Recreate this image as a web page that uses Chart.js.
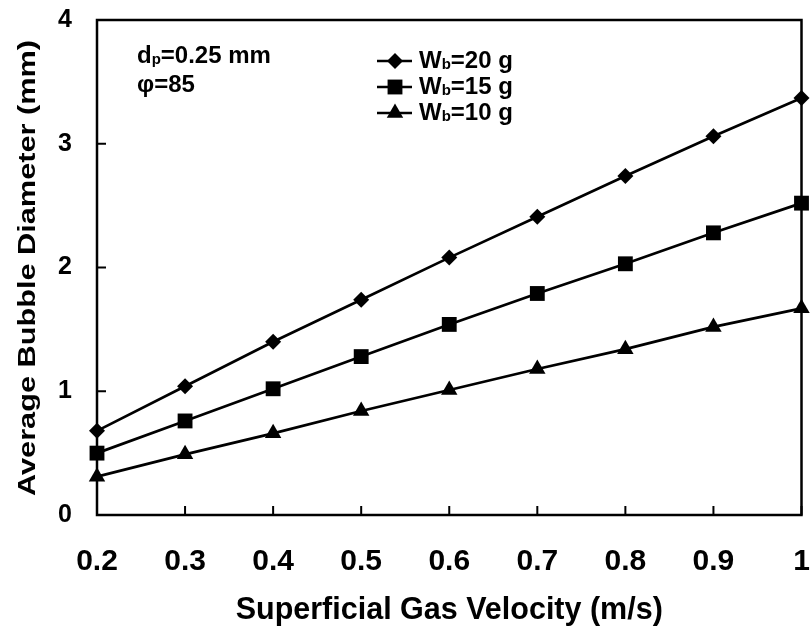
<!DOCTYPE html>
<html>
<head>
<meta charset="utf-8">
<script src="https://cdn.jsdelivr.net/npm/chart.js@4.4.1/dist/chart.umd.min.js"></script>
<style>
    html, body { margin: 0; padding: 0; background: #fff; }
    #wrap { width: 812px; height: 634px; }
</style>
</head>
<body>
<div id="wrap"><canvas id="bubbleChart" width="812" height="634"></canvas></div>
<script>
// data
const velocities = [0.2, 0.3, 0.4, 0.5, 0.6, 0.7, 0.8, 0.9, 1.0];
const dia20g = [0.68, 1.04, 1.40, 1.74, 2.08, 2.41, 2.74, 3.06, 3.37];
const dia15g = [0.50, 0.76, 1.02, 1.28, 1.54, 1.79, 2.03, 2.28, 2.52];
const dia10g = [0.31, 0.49, 0.66, 0.84, 1.01, 1.18, 1.34, 1.52, 1.67];
const bedMasses = ['20 g', '15 g', '10 g'];
const xTicks = [0.2, 0.3, 0.4, 0.5, 0.6, 0.7, 0.8, 0.9, 1.0];
const yTicks = [0, 1, 2, 3, 4];
const yTitle = 'Average Bubble Diameter (mm)';

const FONT = "'Liberation Sans', Arial, sans-serif";

function toPoints(ys) {
    return velocities.map((v, i) => ({ x: v, y: ys[i] }));
}

// Frame and inward tick marks
const frameAndTicks = {
    id: 'frameAndTicks',
    beforeDatasetsDraw(chart) {
        const { ctx, chartArea: a, scales: { x, y } } = chart;
        ctx.save();
        ctx.strokeStyle = '#000';
        ctx.lineWidth = 2;
        ctx.beginPath();
        x.ticks.forEach(t => {
            const px = x.getPixelForValue(t.value);
            ctx.moveTo(px, a.bottom);
            ctx.lineTo(px, a.bottom - 9);
        });
        y.ticks.forEach(t => {
            const py = y.getPixelForValue(t.value);
            ctx.moveTo(a.left, py);
            ctx.lineTo(a.left + 9, py);
        });
        ctx.stroke();
        ctx.lineWidth = 2.5;
        ctx.strokeRect(a.left, a.top, a.right - a.left, a.bottom - a.top);
        ctx.restore();
    }
};

// text with a subscript part
function drawSubText(ctx, parts, x, y, size) {
    let cx = x;
    parts.forEach(([txt, sub]) => {
        const s = sub ? Math.round(size * 0.62) : size;
        ctx.font = `bold ${s}px ${FONT}`;
        ctx.fillText(txt, cx, sub ? y + size * 0.16 : y);
        cx += ctx.measureText(txt).width;
    });
}

function drawMarker(ctx, style, x, y, r) {
    ctx.beginPath();
    if (style === 'rectRot') {
        ctx.moveTo(x, y - r); ctx.lineTo(x + r, y); ctx.lineTo(x, y + r); ctx.lineTo(x - r, y);
    } else if (style === 'rect') {
        const s = r * Math.SQRT1_2;
        ctx.rect(x - s, y - s, 2 * s, 2 * s);
    } else {
        ctx.moveTo(x, y - r);
        ctx.lineTo(x + r * 0.866, y + r * 0.5);
        ctx.lineTo(x - r * 0.866, y + r * 0.5);
    }
    ctx.closePath();
    ctx.fill();
}

// y title (stretched along its length like the original), notes and legend
const notes = {
    id: 'notes',
    afterDraw(chart) {
        const ctx = chart.ctx;
        ctx.save();
        ctx.fillStyle = '#000';
        ctx.strokeStyle = '#000';
        ctx.textBaseline = 'middle';
        ctx.textAlign = 'center';

        ctx.save();
        ctx.font = `bold 24px ${FONT}`;
        const w = ctx.measureText(yTitle).width;
        ctx.translate(28, 268);
        ctx.rotate(-Math.PI / 2);
        ctx.scale(456 / w, 1);
        ctx.fillText(yTitle, 0, 0);
        ctx.restore();

        ctx.textAlign = 'left';
        drawSubText(ctx, [['d', false], ['p', true], ['=0.25 mm', false]], 137, 56, 24);
        drawSubText(ctx, [['φ=85', false]], 137, 85, 24);

        const rowY = [61, 87, 113];
        chart.data.datasets.forEach((ds, i) => {
            const yy = rowY[i];
            ctx.lineWidth = 2.5;
            ctx.beginPath();
            ctx.moveTo(377, yy);
            ctx.lineTo(412, yy);
            ctx.stroke();
            drawMarker(ctx, ds.pointStyle, 395, yy, ds.pointRadius);
            drawSubText(ctx, [['W', false], ['b', true], ['=' + bedMasses[i], false]], 419, yy, 24);
        });
        ctx.restore();
    }
};

const datasetBase = {
    borderColor: '#000',
    backgroundColor: '#000',
    borderWidth: 2.7,
    pointBorderWidth: 0,
    tension: 0,
    clip: false
};

new Chart(document.getElementById('bubbleChart'), {
    type: 'line',
    data: {
        datasets: [
            { ...datasetBase, label: bedMasses[0], data: toPoints(dia20g), pointStyle: 'rectRot', pointRadius: 8 },
            { ...datasetBase, label: bedMasses[1], data: toPoints(dia15g), pointStyle: 'rect', pointRadius: 10.5 },
            { ...datasetBase, label: bedMasses[2], data: toPoints(dia10g), pointStyle: 'triangle', pointRadius: 9.5 }
        ]
    },
    options: {
        responsive: false,
        animation: false,
        layout: { padding: { top: 20, right: 6, left: 0, bottom: 0 } },
        plugins: {
            legend: { display: false },
            tooltip: { enabled: false }
        },
        scales: {
            x: {
                type: 'linear',
                min: 0.2,
                max: 1.0,
                afterBuildTicks: s => { s.ticks = xTicks.map(v => ({ value: v })); },
                afterFit: s => { s.height = 119; s.paddingLeft = 0; s.paddingRight = 0; },
                grid: { display: false },
                border: { display: false },
                ticks: {
                    color: '#000',
                    padding: 21,
                    maxRotation: 0,
                    font: { family: FONT, size: 30, weight: 'bold' },
                    callback: v => String(Number(v.toFixed(1)))
                },
                title: {
                    display: true,
                    text: 'Superficial Gas Velocity (m/s)',
                    color: '#000',
                    padding: { top: 0, bottom: 5 },
                    font: { family: FONT, size: 30.5, weight: 'bold' }
                }
            },
            y: {
                min: 0,
                max: 4,
                afterBuildTicks: s => { s.ticks = yTicks.map(v => ({ value: v })); },
                afterFit: s => { s.width = 97; s.paddingTop = 0; s.paddingBottom = 0; },
                grid: { display: false },
                border: { display: false },
                ticks: {
                    color: '#000',
                    padding: 17,
                    font: { family: FONT, size: 25, weight: 'bold' }
                },
                title: { display: false }
            }
        }
    },
    plugins: [frameAndTicks, notes]
});
</script>
</body>
</html>
